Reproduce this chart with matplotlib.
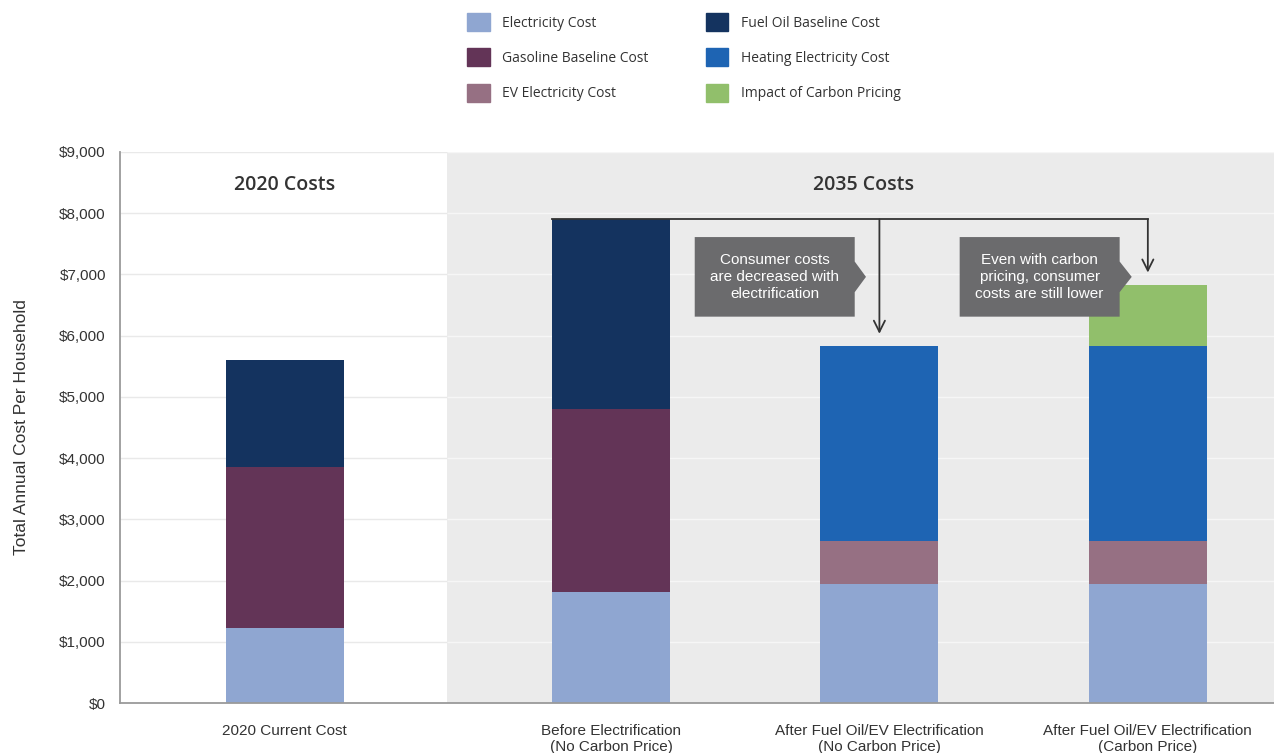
import numpy as np
import matplotlib
matplotlib.use("Agg")
import matplotlib.pyplot as plt
from matplotlib.patches import Polygon, Patch

plt.rcParams['font.family'] = ['Liberation Sans', 'DejaVu Sans']

# data
scenarios = ["2020 Current Cost",
             "Before Electrification\n(No Carbon Price)",
             "After Fuel Oil/EV Electrification\n(No Carbon Price)",
             "After Fuel Oil/EV Electrification\n(Carbon Price)"]
electricity = [1225, 1810, 1950, 1950]
gasoline = [2625, 2990, 0, 0]
ev_electricity = [0, 0, 700, 700]
fuel_oil = [1750, 3100, 0, 0]
heating = [0, 0, 3180, 3180]
carbon = [0, 0, 0, 1000]

series = [
    ("Electricity Cost", electricity, "#8fa6d1"),
    ("Gasoline Baseline Cost", gasoline, "#633457"),
    ("EV Electricity Cost", ev_electricity, "#967083"),
    ("Fuel Oil Baseline Cost", fuel_oil, "#14335f"),
    ("Heating Electricity Cost", heating, "#1e64b3"),
    ("Impact of Carbon Pricing", carbon, "#91bf6b"),
]

x = np.array([0, 1.215, 2.215, 3.215])
width = 0.44
xmin, xmax = -0.615, 3.685
gray_start = 0.603

fig = plt.figure(figsize=(12.74, 7.53), dpi=100)
ax = fig.add_axes([0.094, 0.0664, 0.906, 0.7318])
ax.set_xlim(xmin, xmax)
ax.set_ylim(0, 9000)

# background panels + grid
ax.axvspan(gray_start, xmax, color="#ebebeb", zorder=0, lw=0)
for yv in range(1000, 9001, 1000):
    ax.hlines(yv, xmin, gray_start, color="#e9e9e9", lw=1, zorder=0.5)
    ax.hlines(yv, gray_start, xmax, color="#f6f6f6", lw=1, zorder=0.5)

# stacked bars
bottom = np.zeros(len(x))
for name, vals, col in series:
    vals = np.array(vals, dtype=float)
    ax.bar(x, vals, width, bottom=bottom, color=col, zorder=2, lw=0)
    bottom += vals

hdr = dict(ha="center", va="center", fontsize=14, fontweight="semibold",
           color="#333333", family=["Open Sans", "DejaVu Sans"])
ax.text(x[0], 8460, "2020 Costs", **hdr)
ax.text(2.156, 8460, "2035 Costs", **hdr)

# connector lines and arrows
top2 = sum(v[1] for _, v, _ in series)
top3 = sum(v[2] for _, v, _ in series)
top4 = sum(v[3] for _, v, _ in series)
ax.plot([x[1] - width / 2, x[3]], [top2, top2], color="#333333", lw=1.3, zorder=3)
for xi, top in [(x[2], top3), (x[3], top4)]:
    ax.annotate("", xy=(xi, top + 200), xytext=(xi, top2),
                arrowprops=dict(arrowstyle="->", color="#333333", lw=1.3,
                                mutation_scale=20, shrinkA=0, shrinkB=0), zorder=3)

# callout boxes
def callout(x0, x1, tip, text):
    y0, y1, ym = 6310, 7610, 6960
    pts = [(x0, y0), (x0, y1), (x1, y1), (x1, ym + 250), (tip, ym),
           (x1, ym - 250), (x1, y0)]
    ax.add_patch(Polygon(pts, closed=True, color="#6b6b6d", zorder=4, lw=0))
    ax.text((x0 + x1) / 2, ym, text, ha="center", va="center", color="white",
            fontsize=11, zorder=5, linespacing=1.3)

callout(1.527, 2.123, 2.165, "Consumer costs\nare decreased with\nelectrification")
callout(2.514, 3.110, 3.155, "Even with carbon\npricing, consumer\ncosts are still lower")

# axes style
ax.set_yticks(range(0, 9001, 1000))
ax.set_yticklabels(["$0" if v == 0 else f"${v:,}" for v in range(0, 9001, 1000)],
                   fontsize=11, color="#333333")
ax.set_xticks(x)
ax.set_xticklabels(scenarios, fontsize=11, color="#333333", linespacing=1.2)
ax.tick_params(axis="x", length=0, pad=15)
ax.tick_params(axis="y", length=0, pad=10)
for s in ["top", "right"]:
    ax.spines[s].set_visible(False)
ax.spines["left"].set_color("#9a9a9a")
ax.spines["bottom"].set_color("#9a9a9a")
ax.spines["left"].set_linewidth(1.3)
ax.spines["bottom"].set_linewidth(1.3)
ax.set_ylabel("Total Annual Cost Per Household", fontsize=12.5, color="#333333",
              labelpad=22)

# legend
handles = [Patch(color=col, label=name) for name, _, col in series]
fig.legend(handles=handles, ncol=2, loc="upper left",
           bbox_to_anchor=(0.357, 0.999), frameon=False,
           prop={"family": ["Open Sans", "DejaVu Sans"], "size": 10},
           handlelength=1.6, handleheight=1.6, labelspacing=1.25,
           columnspacing=4.15, handletextpad=0.9, labelcolor="#333333")

fig.savefig("out.png", dpi=100)
